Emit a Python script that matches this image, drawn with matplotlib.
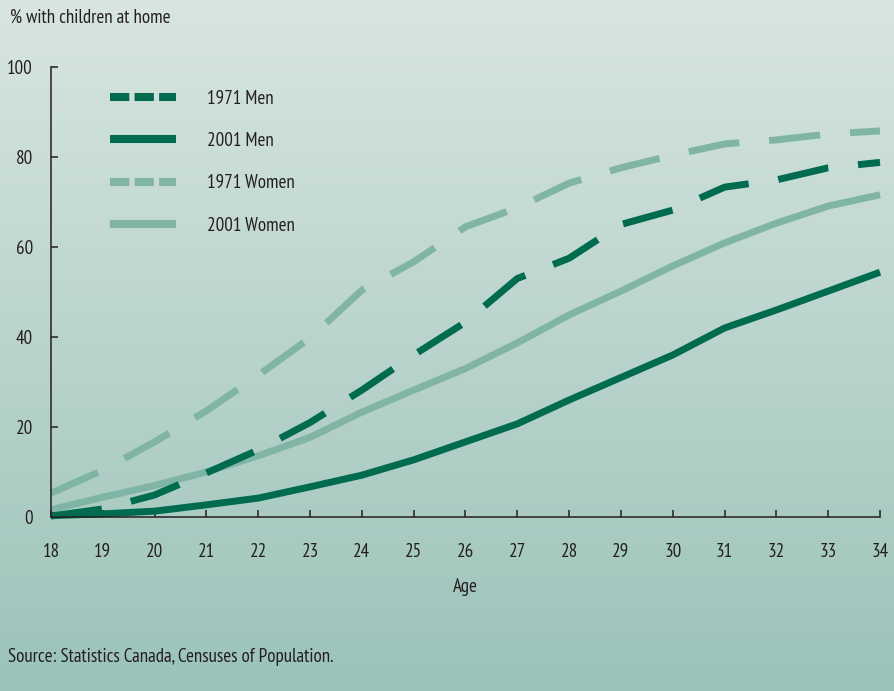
import numpy as np
import matplotlib
matplotlib.use("Agg")
import matplotlib.pyplot as plt
from matplotlib.lines import Line2D

plt.rcParams['font.family'] = ['PT Sans Narrow', 'DejaVu Sans']

ages = [18, 19, 20, 21, 22, 23, 24, 25, 26, 27, 28, 29, 30, 31, 32, 33, 34]
men_1971 = [0.2, 1.8, 4.9, 9.8, 14.9, 21.0, 28.2, 36.0, 43.3, 53.0, 57.5, 65.0, 68.2, 73.3, 74.9, 77.6, 78.8]
men_2001 = [0.3, 0.7, 1.3, 2.7, 4.2, 6.7, 9.3, 12.7, 16.7, 20.7, 26.0, 31.0, 36.0, 42.0, 46.0, 50.2, 54.4]
women_1971 = [5.3, 10.4, 16.7, 23.6, 31.5, 39.8, 50.4, 56.7, 64.5, 68.7, 74.2, 77.6, 80.4, 82.9, 83.8, 85.1, 85.8]
women_2001 = [1.6, 4.4, 7.0, 10.0, 13.6, 17.7, 23.3, 28.2, 33.0, 38.7, 44.9, 50.2, 55.8, 60.9, 65.3, 69.1, 71.6]
series_labels = ["1971 Men", "2001 Men", "1971 Women", "2001 Women"]

y_ticks = [0, 20, 40, 60, 80, 100]

dark = "#006b4f"
light = "#80b5a6"
ink = "#231f20"
fs = 13.7

W, H = 895, 691
fig = plt.figure(figsize=(W / 100, H / 100), dpi=100)

# vertical background gradient
bg = fig.add_axes([0, 0, 1, 1], zorder=-10)
top = np.array([216, 229, 224]) / 255
bot = np.array([155, 195, 185]) / 255
t = np.linspace(0, 1, 256)[:, None]
grad = top[None, :] * (1 - t) + bot[None, :] * t
bg.imshow(grad[:, None, :], aspect='auto', extent=[0, 1, 0, 1])
bg.set_axis_off()

ax = fig.add_axes([51 / W, 1 - 517 / H, (880 - 51) / W, (517 - 67) / H])
ax.set_facecolor('none')

lw = 5.0
dash = (7.4, 4.3)
ax.plot(ages, women_1971, color=light, lw=lw, dashes=dash, solid_capstyle='butt', dash_capstyle='butt', clip_on=False)
ax.plot(ages, women_2001, color=light, lw=lw, solid_capstyle='butt', clip_on=False)
ax.plot(ages, men_1971, color=dark, lw=lw, dashes=dash, solid_capstyle='butt', dash_capstyle='butt', clip_on=False)
ax.plot(ages, men_2001, color=dark, lw=lw, solid_capstyle='butt', clip_on=False)

ax.set_xlim(18, 34)
ax.set_ylim(0, 100)
ax.set_xticks(ages)
ax.set_yticks(y_ticks)
ax.tick_params(direction='in', length=5, width=1.1, colors=ink, labelsize=fs)
ax.tick_params(axis='x', pad=19)
ax.tick_params(axis='y', pad=13)
for s in ['top', 'right']:
    ax.spines[s].set_visible(False)
for s in ['left', 'bottom']:
    ax.spines[s].set_color(ink)
    ax.spines[s].set_linewidth(1.1)

ax.set_xlabel("Age", fontsize=fs, color=ink, labelpad=12)

# legend
handles = [
    Line2D([], [], color=dark, lw=5.8, dashes=(2.4, 0.65), dash_capstyle='butt'),
    Line2D([], [], color=dark, lw=5.8, solid_capstyle='butt'),
    Line2D([], [], color=light, lw=5.8, dashes=(2.4, 0.65), dash_capstyle='butt'),
    Line2D([], [], color=light, lw=5.8, solid_capstyle='butt'),
]
leg = ax.legend(handles, series_labels, loc='upper left', frameon=False,
                bbox_to_anchor=(102 / W, 1 - 82 / H), bbox_transform=fig.transFigure,
                fontsize=fs, handlelength=3.5, handletextpad=1.6, labelspacing=1.28,
                borderaxespad=0)
for txt in leg.get_texts():
    txt.set_color(ink)

fig.text(10 / W, 1 - 18 / H, "% with children at home", fontsize=fs, color=ink, va='center', ha='left')
fig.text(8 / W, 1 - 657 / H, "Source: Statistics Canada, Censuses of Population.", fontsize=fs,
         color=ink, va='center', ha='left')

fig.savefig("out.png", dpi=100)
